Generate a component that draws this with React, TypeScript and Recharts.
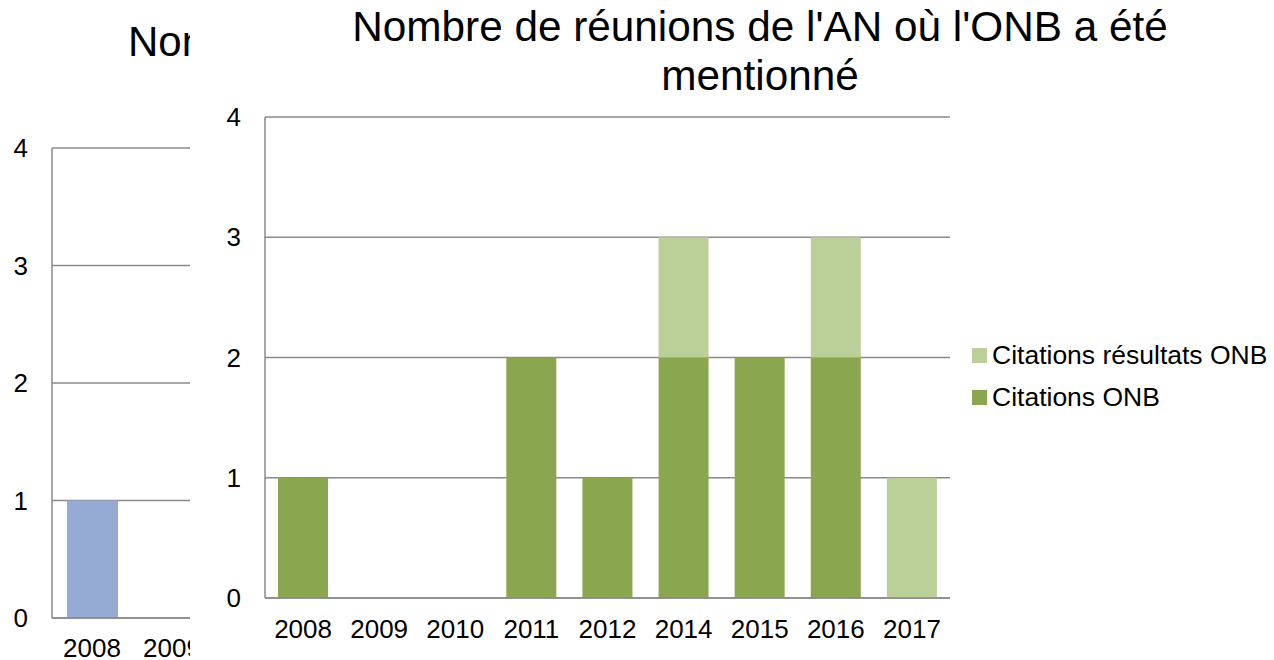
import React from 'react';
import { BarChart, Bar, XAxis, YAxis, CartesianGrid, Legend } from 'recharts';

const years = ['2008', '2009', '2010', '2011', '2012', '2014', '2015', '2016', '2017'];
const citationsONB = [1, 0, 0, 2, 1, 2, 2, 2, 0];
const citationsResultats = [0, 0, 0, 0, 0, 1, 0, 1, 1];
const backgroundValues = [1, 0, 0, 2, 1, 3, 2, 3, 1];
const yTicks = [0, 1, 2, 3, 4];
const titleLine1 = "Nombre de réunions de l'AN où l'ONB a été";
const titleLine2 = 'mentionné';

const DARK = '#8AA64F';
const LIGHT = '#BBCF98';
const BLUE = '#95ABD3';
const GRID = '#8A8A8A';
const FONT = '"Liberation Sans", Arial, sans-serif';

const fgData = years.map((y, i) => ({ year: y, onb: citationsONB[i], res: citationsResultats[i] }));
const bgData = years.map((y, i) => ({ year: y, v: backgroundValues[i] }));

const renderLegend = (props: any) => {
  const items = [...(props.payload || [])].reverse();
  return (
    <div style={{ fontFamily: FONT }}>
      {items.map((it: any) => (
        <div key={it.value} style={{ display: 'flex', alignItems: 'center', height: 42, fontSize: 26.5, color: '#000', whiteSpace: 'nowrap' }}>
          <span style={{ display: 'inline-block', width: 15, height: 15, background: it.color, marginRight: 5 }} />
          <span>{it.value}</span>
        </div>
      ))}
    </div>
  );
};

export default function App() {
  return (
    <div style={{ position: 'absolute', left: 0, top: 0, width: 1274, height: 660, background: '#fff', overflow: 'hidden', fontFamily: FONT }}>
      {/* background chart (partially hidden) */}
      <div style={{ position: 'absolute', left: 0, top: 0 }}>
        <BarChart width={900} height={660} data={bgData} margin={{ top: 148, right: 128, bottom: 0, left: 0 }}>
          <CartesianGrid horizontal vertical={false} stroke={GRID} strokeWidth={1.5} />
          <XAxis dataKey="year" height={42} tickLine={false} tickSize={0} tickMargin={21} axisLine={{ stroke: GRID, strokeWidth: 1.5 }} tick={{ fontSize: 26, fill: '#000' }} interval={0} />
          <YAxis width={52} domain={[0, 4]} ticks={yTicks} tickLine={false} tickSize={0} tickMargin={24} axisLine={{ stroke: GRID, strokeWidth: 1.5 }} tick={{ fontSize: 26, fill: '#000' }} />
          <Bar dataKey="v" fill={BLUE} barSize={51} isAnimationActive={false} />
        </BarChart>
      </div>
      <div style={{ position: 'absolute', left: 128, top: 17, width: 62, height: 52, overflow: 'hidden' }}>
        <div style={{ fontSize: 42, lineHeight: '49px', whiteSpace: 'nowrap', color: '#000' }}>
          {titleLine1} {titleLine2}
        </div>
      </div>
      {/* foreground chart */}
      <div style={{ position: 'absolute', left: 190, top: 0, width: 1084, height: 660, background: '#fff' }}>
        <div style={{ position: 'absolute', left: 0, top: 0 }}>
          <BarChart width={1084} height={660} data={fgData} margin={{ top: 117, right: 324, bottom: 0, left: 0 }}>
            <CartesianGrid horizontal vertical={false} stroke={GRID} strokeWidth={1.5} />
            <XAxis dataKey="year" height={62} tickLine={false} tickSize={0} tickMargin={22} axisLine={{ stroke: GRID, strokeWidth: 1.5 }} tick={{ fontSize: 26, fill: '#000' }} interval={0} />
            <YAxis width={75} domain={[0, 4]} ticks={yTicks} tickLine={false} tickSize={0} tickMargin={24} axisLine={{ stroke: GRID, strokeWidth: 1.5 }} tick={{ fontSize: 26, fill: '#000' }} />
            <Legend content={renderLegend} layout="vertical" align="center" verticalAlign="middle" wrapperStyle={{ position: 'absolute', left: 782, top: 334, width: 300 }} />
            <Bar dataKey="onb" name="Citations ONB" stackId="a" fill={DARK} barSize={50} isAnimationActive={false} />
            <Bar dataKey="res" name="Citations résultats ONB" stackId="a" fill={LIGHT} barSize={50} isAnimationActive={false} />
          </BarChart>
        </div>
        <div style={{ position: 'absolute', left: 570 - 600, top: 2, width: 1200, textAlign: 'center', fontSize: 42.3, lineHeight: '49px', color: '#000' }}>
          <div style={{ whiteSpace: 'nowrap' }}>{titleLine1}</div>
          <div>{titleLine2}</div>
        </div>
      </div>
    </div>
  );
}
